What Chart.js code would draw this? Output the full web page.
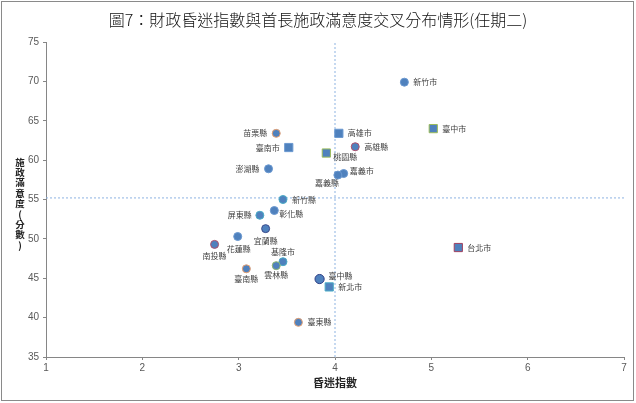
<!DOCTYPE html>
<html>
<head>
<meta charset="utf-8">
<script src="https://cdn.jsdelivr.net/npm/chart.js@4.4.1/dist/chart.umd.min.js"></script>
<style>
  body { margin: 0; background: #fff; }
  #wrap { width: 636px; height: 403px; }
</style>
</head>
<body>
<div id="wrap"><canvas id="chart" width="636" height="403"></canvas></div>
<script>
// data
const titleText = '圖7：財政昏迷指數與首長施政滿意度交叉分布情形(任期二)';
const xTitle = '昏迷指數';
const yTitle = '施政滿意度(分數)';

const areas = ['新竹市', '臺中市', '高雄市', '苗栗縣', '臺南市', '高雄縣', '桃園縣', '澎湖縣',
  '嘉義市', '嘉義縣', '新竹縣', '彰化縣', '屏東縣', '宜蘭縣', '花蓮縣', '南投縣',
  '基隆市', '雲林縣', '臺南縣', '臺中縣', '新北市', '臺東縣', '台北市'];
const comaIndex = [4.72, 5.02, 4.04, 3.39, 3.52, 4.21, 3.91, 3.31,
  4.09, 4.03, 3.46, 3.37, 3.22, 3.28, 2.99, 2.75,
  3.46, 3.39, 3.08, 3.84, 3.94, 3.62, 5.28];
const satisfaction = [69.9, 64.0, 63.4, 63.4, 61.6, 61.7, 60.9, 58.9,
  58.3, 58.1, 55.0, 53.6, 53.0, 51.3, 50.3, 49.3,
  47.1, 46.6, 46.2, 44.9, 43.9, 39.4, 48.9];
// municipalities drawn as squares
const municipalities = ['臺中市', '高雄市', '臺南市', '桃園縣', '新北市', '台北市'];

const xTicks = [1, 2, 3, 4, 5, 6, 7];
const yTicks = [35, 40, 45, 50, 55, 60, 65, 70, 75];
const refX = 4;
const refY = 55.2;

// marker border colours per area
const edge = {
  '臺中市': '#9bbb59', '苗栗縣': '#e8a070', '高雄縣': '#b0506a', '桃園縣': '#9bbb59',
  '新竹縣': '#4bacc6', '屏東縣': '#4bacc6', '宜蘭縣': '#3b4a8c', '南投縣': '#b0506a',
  '基隆市': '#4bacc6', '雲林縣': '#8fb870', '臺南縣': '#e8a070', '臺中縣': '#2f3f86',
  '新北市': '#4bacc6', '臺東縣': '#e8a070', '台北市': '#a0405e'
};
// label placement [dx, dy, align]
const labelPos = {
  '苗栗縣': [-9, 0, 'right'], '臺南市': [-9, 0, 'right'], '澎湖縣': [-9, 0, 'right'],
  '屏東縣': [-8, 0, 'right'], '桃園縣': [7, 4, 'left'], '嘉義市': [6, -3, 'left'],
  '嘉義縣': [-11, 8, 'center'], '彰化縣': [5, 3, 'left'], '宜蘭縣': [0, 12, 'center'],
  '花蓮縣': [1, 12, 'center'], '南投縣': [0, 12, 'center'], '基隆市': [0, -10, 'center'],
  '雲林縣': [0, 9, 'center'], '臺南縣': [0, 10, 'center'], '臺中縣': [9, -3, 'left']
};

const points = areas.map((a, i) => ({ x: comaIndex[i], y: satisfaction[i] }));

const frame = {
  id: 'frame',
  beforeDraw(chart) {
    const ctx = chart.ctx;
    ctx.save();
    ctx.fillStyle = '#fff';
    ctx.fillRect(0, 0, chart.width, chart.height);
    ctx.strokeStyle = '#8a8a8a';
    ctx.lineWidth = 1;
    ctx.strokeRect(1.5, 1.5, 632, 399);
    ctx.restore();
  },
  afterDraw(chart) {
    const ctx = chart.ctx;
    ctx.save();
    ctx.fillStyle = '#111';
    ctx.textAlign = 'center';
    ctx.textBaseline = 'middle';
    ctx.font = '300 16px "Noto Sans CJK TC"';
    ctx.fillText(titleText, 318, 20);
    // stacked y title
    ctx.font = 'bold 9.5px "Noto Sans CJK TC"';
    ctx.fillStyle = '#222';
    const chars = Array.from(yTitle);
    chars.forEach((ch, i) => ctx.fillText(ch, 20, 162 + i * 10.4));
    ctx.restore();
  }
};

const pointLabels = {
  id: 'pointLabels',
  afterDatasetsDraw(chart) {
    const ctx = chart.ctx;
    const meta = chart.getDatasetMeta(0);
    ctx.save();
    ctx.font = '8px "Noto Sans CJK TC"';
    ctx.fillStyle = '#404040';
    ctx.textBaseline = 'middle';
    meta.data.forEach((el, i) => {
      const p = labelPos[areas[i]] || [9, 0, 'left'];
      ctx.textAlign = p[2];
      ctx.fillText(areas[i], el.x + p[0], el.y + p[1]);
    });
    ctx.restore();
  }
};

const axisColor = '#868686';
const tickFont = { family: '"Liberation Sans", Arial', size: 10 };

new Chart(document.getElementById('chart'), {
  type: 'scatter',
  data: {
    datasets: [
      {
        label: '縣市',
        data: points,
        backgroundColor: '#4f81bd',
        borderColor: areas.map(a => edge[a] || '#6a98d0'),
        borderWidth: 1,
        pointStyle: areas.map(a => municipalities.includes(a) ? 'rect' : 'circle'),
        pointRadius: areas.map(a => municipalities.includes(a) ? 5.8 : (a === '臺中縣' ? 4.6 : 4)),
        pointHoverRadius: areas.map(a => municipalities.includes(a) ? 5.8 : 4)
      },
      {
        type: 'line',
        label: 'refX',
        data: [{ x: refX, y: yTicks[0] }, { x: refX, y: yTicks[yTicks.length - 1] }],
        borderColor: '#8db3e2',
        borderWidth: 1,
        borderDash: [2, 2],
        pointRadius: 0,
        fill: false
      },
      {
        type: 'line',
        label: 'refY',
        data: [{ x: xTicks[0], y: refY }, { x: xTicks[xTicks.length - 1], y: refY }],
        borderColor: '#8db3e2',
        borderWidth: 1,
        borderDash: [2, 2],
        pointRadius: 0,
        fill: false
      }
    ]
  },
  options: {
    responsive: false,
    animation: false,
    layout: { padding: { top: 42, right: 12, left: 0, bottom: 0 } },
    plugins: {
      legend: { display: false },
      title: { display: false },
      tooltip: { enabled: false }
    },
    scales: {
      x: {
        type: 'linear',
        min: xTicks[0],
        max: xTicks[xTicks.length - 1],
        afterFit: s => { s.height = 46; },
        afterBuildTicks: s => { s.ticks = xTicks.map(v => ({ value: v })); },
        border: { color: axisColor },
        grid: { drawOnChartArea: false, drawTicks: true, tickLength: 3, color: axisColor },
        ticks: { color: '#595959', font: tickFont, padding: 2, maxRotation: 0 },
        title: {
          display: true,
          text: xTitle,
          color: '#222',
          font: { family: '"Noto Sans CJK TC"', size: 11, weight: 'bold' },
          padding: { top: 0, bottom: 14 }
        }
      },
      y: {
        type: 'linear',
        min: yTicks[0],
        max: yTicks[yTicks.length - 1],
        afterFit: s => { s.width = 46; },
        afterBuildTicks: s => { s.ticks = yTicks.map(v => ({ value: v })); },
        border: { color: axisColor },
        grid: { drawOnChartArea: false, drawTicks: true, tickLength: 3, color: axisColor },
        ticks: { color: '#595959', font: tickFont, padding: 4 }
      }
    }
  },
  plugins: [frame, pointLabels]
});
</script>
</body>
</html>
